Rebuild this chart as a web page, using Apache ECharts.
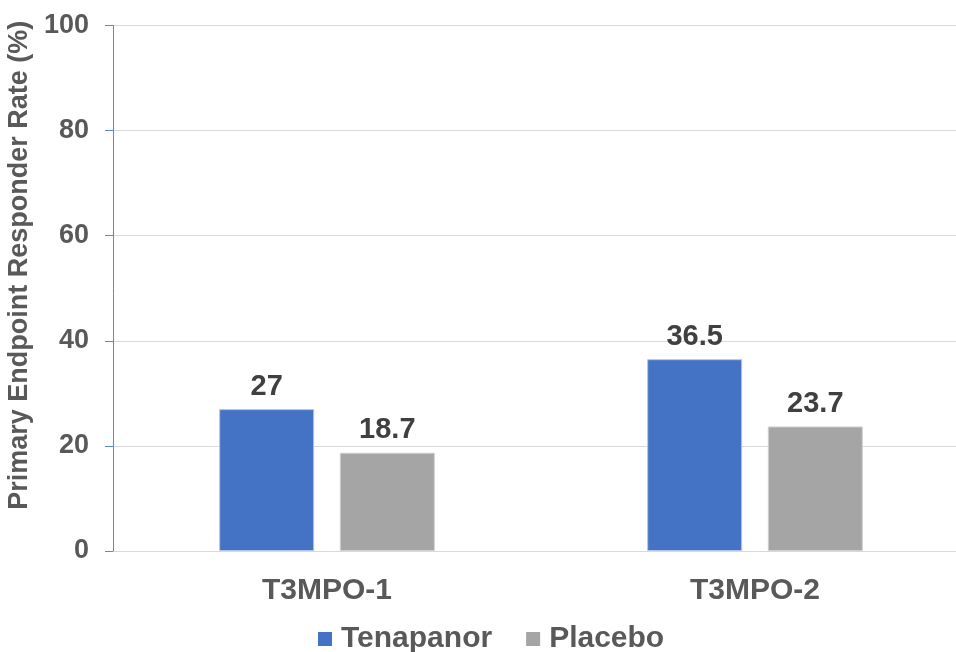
<!DOCTYPE html>
<html><head><meta charset="utf-8">
<script src="https://cdn.jsdelivr.net/npm/echarts@6/dist/echarts.min.js"></script>
<style>html,body{margin:0;padding:0;background:#fff}#c{width:956px;height:652px}</style>
</head><body><div id="c"></div>
<script>
var categories = ["T3MPO-1", "T3MPO-2"];
var seriesNames = ["Tenapanor", "Placebo"];
var tenapanor = [27, 36.5];
var placebo = [18.7, 23.7];
var yTicks = [0, 20, 40, 60, 80, 100];

var font = "Liberation Sans, Arial, sans-serif";
var chart = echarts.init(document.getElementById('c'));
var labelCfg = {show: true, position: 'top', distance: 8, fontFamily: font, fontSize: 29, fontWeight: 'bold', color: '#404040'};
chart.setOption({
  animation: false,
  grid: {left: 113, right: -13, top: 25.5, bottom: 101, containLabel: false, outerBoundsMode: 'none'},
  legend: {
    bottom: -7, left: 313, itemWidth: 14, itemHeight: 14, itemGap: 34,
    icon: 'rect',
    itemStyle: {borderWidth: 0},
    textStyle: {fontFamily: font, fontSize: 30, fontWeight: 'bold', color: '#595959', padding: [0, 0, 0, 4]},
    data: seriesNames
  },
  xAxis: {
    type: 'category', data: categories,
    axisLine: {show: false}, axisTick: {show: false},
    axisLabel: {fontFamily: font, fontSize: 30, fontWeight: 'bold', color: '#595959', margin: 25}
  },
  yAxis: {
    type: 'value', min: yTicks[0], max: yTicks[yTicks.length - 1], interval: 20,
    name: 'Primary Endpoint Responder Rate (%)', nameLocation: 'middle', nameGap: 78, nameRotate: 90,
    nameTextStyle: {fontFamily: font, fontSize: 27, fontWeight: 'bold', color: '#595959', padding: [0, 0, 0, 46]},
    axisLine: {show: true, lineStyle: {color: '#5B8BD8', width: 1}},
    axisTick: {show: true, length: 8, lineStyle: {color: '#5B8BD8'}},
    splitLine: {lineStyle: {color: '#D9D9D9', width: 1}},
    axisLabel: {fontFamily: font, fontSize: 27, fontWeight: 'bold', color: '#595959', margin: 24}
  },
  series: [
    {name: seriesNames[0], type: 'bar', data: tenapanor, barWidth: 95, barGap: '27%',
     itemStyle: {color: '#4472C4', borderColor: '#B4C7E7', borderWidth: 1}, label: labelCfg},
    {name: seriesNames[1], type: 'bar', data: placebo, barWidth: 95,
     itemStyle: {color: '#A5A5A5', borderColor: '#D0D0D0', borderWidth: 1}, label: labelCfg}
  ]
});
</script></body></html>
